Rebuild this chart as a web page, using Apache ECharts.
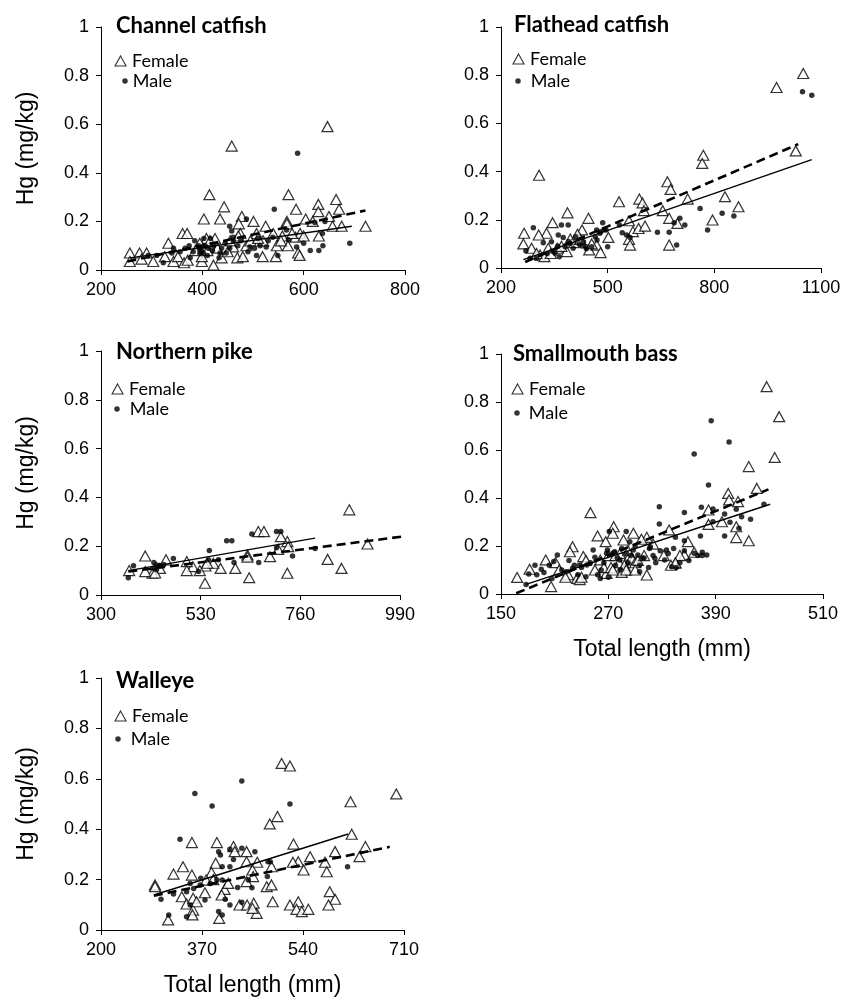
<!DOCTYPE html>
<html>
<head>
<meta charset="utf-8">
<script src="https://cdn.jsdelivr.net/npm/echarts@6/dist/echarts.min.js"></script>
<style>
html,body{margin:0;padding:0;background:#fff;}
#chart{width:844px;height:1003px;}
</style>
</head>
<body>
<div id="chart"></div>
<script>
// ---------- Data ----------
const panelTitles = ['Channel catfish', 'Flathead catfish', 'Northern pike', 'Smallmouth bass', 'Walleye'];
const seriesNames = ['Female', 'Male'];
const yTicks = [0, 0.2, 0.4, 0.6, 0.8, 1];
const ccTicks = [200, 400, 600, 800];
const fcTicks = [200, 500, 800, 1100];
const npTicks = [300, 530, 760, 990];
const sbTicks = [150, 270, 390, 510];
const wTicks = [200, 370, 540, 710];
const yAxisTitle = 'Hg (mg/kg)';
const xAxisTitle = 'Total length (mm)';

const ccFemale = [[647,0.59],[458,0.51],[414,0.31],[570,0.31],[443,0.26],[435,0.21],[403,0.21],[478,0.22],[501,0.20],[664,0.29],[629,0.27],[585,0.25],[670,0.25],[629,0.24],[650,0.22],[604,0.21],[567,0.20],[567,0.19],[618,0.20],[657,0.18],[675,0.18],[722,0.18],[525,0.18],[472,0.19],[475,0.15],[361,0.15],[370,0.15],[408,0.13],[425,0.13],[471,0.14],[507,0.15],[558,0.14],[584,0.135],[630,0.14],[593,0.15],[577,0.15],[333,0.11],[395,0.11],[487,0.10],[547,0.10],[569,0.10],[589,0.07],[592,0.06],[519,0.055],[545,0.055],[469,0.05],[480,0.055],[438,0.05],[422,0.02],[399,0.035],[399,0.055],[257,0.07],[257,0.035],[276,0.07],[290,0.07],[280,0.045],[303,0.035],[326,0.055],[343,0.035],[352,0.055],[364,0.03],[371,0.04],[461,0.095],[520,0.12],[415,0.12],[430,0.09],[455,0.12],[495,0.12],[510,0.13],[540,0.15],[555,0.12],[600,0.14],[450,0.075],[386,0.08],[410,0.08]];
const ccMale = [[588,0.48],[542,0.25],[691,0.11],[613,0.08],[630,0.08],[638,0.10],[637,0.15],[642,0.20],[622,0.195],[600,0.11],[586,0.095],[570,0.125],[549,0.06],[507,0.06],[526,0.095],[487,0.21],[458,0.16],[461,0.135],[447,0.07],[454,0.09],[435,0.07],[433,0.05],[416,0.13],[403,0.13],[392,0.10],[382,0.075],[374,0.10],[376,0.05],[356,0.075],[340,0.07],[323,0.03],[293,0.06],[412,0.09],[422,0.10],[476,0.12],[494,0.095],[490,0.075],[503,0.09],[510,0.13],[539,0.135],[514,0.10],[438,0.09],[402,0.07],[395,0.09],[385,0.12],[454,0.18],[461,0.12],[395,0.07],[343,0.09],[366,0.09],[566,0.165],[405,0.10],[398,0.08],[410,0.06],[420,0.08],[445,0.11],[470,0.10],[530,0.12],[310,0.06]];
const ccFemaleFit = [[252,0.035],[722,0.245]];
const ccMaleFit = [[257,0.05],[695,0.18]];

const fcFemale = [[1050,0.807],[975,0.749],[1029,0.486],[307,0.385],[769,0.468],[766,0.434],[668,0.358],[677,0.326],[725,0.286],[830,0.296],[868,0.254],[795,0.199],[589,0.286],[598,0.27],[602,0.238],[655,0.238],[532,0.275],[446,0.206],[387,0.229],[345,0.188],[328,0.144],[306,0.137],[265,0.144],[263,0.10],[286,0.082],[310,0.054],[322,0.047],[333,0.082],[358,0.082],[385,0.068],[405,0.105],[428,0.158],[423,0.119],[448,0.075],[469,0.095],[480,0.064],[502,0.127],[560,0.196],[571,0.151],[560,0.119],[563,0.095],[587,0.164],[605,0.174],[673,0.206],[696,0.185],[673,0.095],[300,0.06],[340,0.06],[370,0.09],[395,0.12],[415,0.14],[455,0.10]];
const fcMale = [[1048,0.731],[1074,0.717],[760,0.247],[822,0.227],[855,0.216],[781,0.158],[703,0.206],[687,0.188],[717,0.178],[694,0.095],[673,0.148],[640,0.148],[533,0.178],[541,0.146],[553,0.137],[563,0.127],[500,0.088],[495,0.158],[478,0.144],[470,0.116],[455,0.088],[439,0.088],[428,0.091],[389,0.178],[370,0.178],[375,0.127],[361,0.137],[342,0.109],[319,0.105],[291,0.167],[270,0.072],[282,0.04],[300,0.04],[364,0.047],[352,0.061],[380,0.088],[394,0.102],[403,0.082],[432,0.109],[486,0.188],[469,0.158],[330,0.06],[345,0.07],[360,0.09],[390,0.11],[410,0.13],[420,0.10],[440,0.08],[465,0.13],[480,0.15],[490,0.16]];
const fcFemaleFit = [[268,0.025],[1036,0.514]];
const fcMaleFit = [[263,0.035],[1074,0.45]];

const npFemale = [[873,0.349],[994,0.209],[915,0.209],[823,0.146],[855,0.109],[730,0.089],[730,0.219],[732,0.198],[715,0.239],[709,0.187],[690,0.157],[663,0.26],[676,0.26],[638,0.164],[638,0.155],[642,0.071],[610,0.109],[576,0.109],[559,0.13],[540,0.048],[541,0.119],[528,0.10],[512,0.116],[498,0.137],[498,0.10],[450,0.144],[436,0.109],[419,0.089],[402,0.16],[402,0.096],[365,0.10],[425,0.09],[545,0.13]];
const npMale = [[794,0.191],[742,0.16],[705,0.26],[715,0.26],[705,0.194],[664,0.133],[648,0.25],[607,0.133],[590,0.222],[602,0.222],[550,0.182],[548,0.144],[525,0.096],[467,0.15],[422,0.133],[428,0.103],[375,0.12],[363,0.071],[428,0.123],[571,0.144],[420,0.11],[435,0.12],[445,0.125]];
const npFemaleFit = [[363,0.096],[994,0.239]];
const npMaleFit = [[363,0.1],[794,0.233]];

const sbFemale = [[447,0.864],[461,0.739],[456,0.569],[427,0.531],[436,0.44],[404,0.419],[405,0.392],[415,0.385],[382,0.35],[397,0.301],[413,0.28],[413,0.235],[427,0.222],[366,0.174],[355,0.163],[359,0.218],[338,0.267],[320,0.208],[313,0.236],[307,0.228],[313,0.079],[298,0.253],[287,0.225],[276,0.28],[275,0.253],[267,0.218],[258,0.242],[250,0.339],[242,0.156],[230,0.197],[227,0.176],[211,0.131],[200,0.142],[182,0.103],[168,0.069],[206,0.031],[235,0.065],[289,0.107],[268,0.086],[261,0.142],[283,0.169],[294,0.162],[345,0.128],[298,0.142],[289,0.1],[265,0.11],[270,0.16],[278,0.16],[282,0.13],[288,0.12],[292,0.18],[296,0.15],[300,0.13],[303,0.14],[310,0.16],[285,0.09],[273,0.11],[255,0.1],[245,0.14],[225,0.08],[215,0.1],[222,0.07],[238,0.06],[240,0.07],[275,0.1],[290,0.1],[300,0.1],[332,0.16],[340,0.12],[350,0.16],[345,0.13],[382,0.29]];
const sbMale = [[385,0.722],[405,0.633],[366,0.583],[382,0.454],[327,0.364],[355,0.34],[374,0.361],[387,0.354],[387,0.301],[400,0.333],[406,0.299],[413,0.353],[419,0.322],[429,0.311],[444,0.374],[400,0.242],[416,0.274],[373,0.242],[380,0.163],[375,0.174],[355,0.222],[345,0.236],[327,0.292],[337,0.169],[341,0.114],[335,0.183],[317,0.197],[294,0.218],[290,0.26],[271,0.26],[269,0.183],[255,0.153],[246,0.121],[238,0.121],[230,0.107],[223,0.093],[213,0.163],[209,0.135],[195,0.103],[178,0.04],[181,0.083],[207,0.065],[261,0.065],[245,0.072],[283,0.142],[303,0.163],[322,0.149],[333,0.142],[298,0.183],[277,0.176],[305,0.093],[253,0.183],[250,0.13],[262,0.1],[275,0.17],[280,0.15],[285,0.19],[290,0.17],[295,0.16],[305,0.12],[310,0.15],[315,0.11],[320,0.16],[328,0.18],[350,0.13],[355,0.18],[360,0.14],[300,0.2],[270,0.07],[265,0.13],[240,0.11],[232,0.12],[218,0.1],[204,0.12],[198,0.09],[190,0.08],[188,0.12],[226,0.14],[236,0.08],[258,0.08],[268,0.17],[278,0.12],[283,0.1],[292,0.13],[308,0.15],[316,0.19],[323,0.13],[343,0.19],[346,0.11],[366,0.17],[370,0.16],[375,0.16]];
const sbFemaleFit = [[167,0.003],[449,0.436]];
const sbMaleFit = [[178,0.04],[451,0.374]];

const wFemale = [[504,0.661],[518,0.651],[697,0.54],[620,0.509],[622,0.38],[497,0.45],[484,0.421],[524,0.341],[645,0.331],[635,0.291],[594,0.311],[552,0.291],[577,0.269],[532,0.271],[523,0.269],[541,0.238],[580,0.231],[487,0.251],[479,0.172],[487,0.179],[489,0.112],[518,0.099],[532,0.112],[529,0.082],[538,0.073],[549,0.082],[585,0.152],[594,0.122],[583,0.099],[291,0.179],[291,0.172],[322,0.222],[338,0.251],[353,0.347],[353,0.218],[336,0.132],[344,0.103],[355,0.126],[355,0.079],[354,0.06],[313,0.04],[361,0.112],[375,0.148],[395,0.347],[393,0.265],[386,0.228],[377,0.198],[389,0.2],[408,0.161],[403,0.139],[414,0.185],[423,0.331],[425,0.311],[399,0.046],[445,0.311],[445,0.271],[463,0.269],[455,0.238],[456,0.212],[445,0.192],[433,0.099],[446,0.099],[457,0.106],[462,0.066],[455,0.086]];
const wMale = [[437,0.591],[358,0.542],[387,0.492],[518,0.5],[333,0.36],[615,0.251],[485,0.271],[480,0.212],[437,0.324],[459,0.311],[417,0.32],[398,0.311],[401,0.298],[404,0.251],[417,0.251],[423,0.28],[395,0.198],[404,0.198],[384,0.185],[367,0.179],[368,0.205],[356,0.165],[350,0.185],[344,0.152],[322,0.143],[301,0.122],[314,0.06],[344,0.053],[350,0.099],[375,0.119],[398,0.073],[404,0.06],[417,0.099],[409,0.122],[430,0.169],[437,0.11],[454,0.168],[448,0.198],[481,0.271]];
const wFemaleFit = [[289,0.136],[686,0.33]];
const wMaleFit = [[289,0.139],[616,0.381]];

// ---------- Layout ----------
const panels = [
  {title: panelTitles[0], female: ccFemale, male: ccMale, ff: ccFemaleFit, mf: ccMaleFit, ticks: ccTicks,
   grid: {left:101, top:27, width:304, height:243}, titlePos:[116,13], fLeg:[120,61], mLeg:[125,81], mPad:0, yName:true, xName:false},
  {title: panelTitles[1], female: fcFemale, male: fcMale, ff: fcFemaleFit, mf: fcMaleFit, ticks: fcTicks,
   grid: {left:501, top:27, width:320, height:241}, titlePos:[514,12], fLeg:[518,59], mLeg:[518,81], mPad:5, yName:false, xName:false},
  {title: panelTitles[2], female: npFemale, male: npMale, ff: npFemaleFit, mf: npMaleFit, ticks: npTicks,
   grid: {left:101, top:351, width:299, height:244}, titlePos:[116,339], fLeg:[117,389], mLeg:[117,409], mPad:5, yName:true, xName:false},
  {title: panelTitles[3], female: sbFemale, male: sbMale, ff: sbFemaleFit, mf: sbMaleFit, ticks: sbTicks,
   grid: {left:501, top:354, width:322, height:240}, titlePos:[513,341], fLeg:[517,389], mLeg:[517,413], mPad:4, yName:false, xName:true},
  {title: panelTitles[4], female: wFemale, male: wMale, ff: wFemaleFit, mf: wMaleFit, ticks: wTicks,
   grid: {left:101, top:678, width:303, height:252}, titlePos:[116,668], fLeg:[120,716], mLeg:[118,739], mPad:5, yName:true, xName:true}
];

const AX = '#000';
const SANS = 'Liberation Sans, Arial, sans-serif';
const labelFont = {fontFamily:SANS, fontSize:18, color:'#000'};
const nameFont = {fontFamily:SANS, fontSize:23, color:'#000'};
const legFont = {fontFamily:'Lato, sans-serif', fontSize:18, color:'#000', lineHeight:20};

const option = {
  animation:false,
  backgroundColor:'#fff',
  grid:[], xAxis:[], yAxis:[], title:[], legend:[], series:[]
};

panels.forEach((p, i) => {
  option.grid.push(Object.assign({outerBoundsMode:'none', containLabel:false}, p.grid));
  option.xAxis.push({
    gridIndex:i, type:'value', min:p.ticks[0], max:p.ticks[p.ticks.length-1],
    axisLine:{show:true, onZero:false, lineStyle:{color:AX, width:1}},
    axisTick:{show:true, length:5, inside:false, customValues:p.ticks, lineStyle:{color:AX}},
    axisLabel:Object.assign({customValues:p.ticks, margin:11, formatter:(v) => String(v)}, labelFont),
    splitLine:{show:false},
    name: p.xName ? xAxisTitle : '', nameLocation:'middle', nameGap:44, nameTextStyle:nameFont
  });
  option.yAxis.push({
    gridIndex:i, type:'value', min:yTicks[0], max:yTicks[yTicks.length-1], interval:0.2,
    axisLine:{show:true, lineStyle:{color:AX, width:1}},
    axisTick:{show:true, length:5, inside:false, lineStyle:{color:AX}},
    axisLabel:Object.assign({margin:12, formatter:(v) => String(v)}, labelFont),
    splitLine:{show:false},
    name: p.yName ? yAxisTitle : '', nameLocation:'middle', nameGap:63, nameTextStyle:nameFont
  });
  option.title.push({
    text:p.title, left:p.titlePos[0], top:p.titlePos[1], padding:0,
    textStyle:{fontFamily:'Lato, sans-serif', fontWeight:'bold', fontSize:22, color:'#000', lineHeight:26}
  });
  option.legend.push({
    data:[seriesNames[0]], left:p.fLeg[0]-5.5, top:p.fLeg[1]-10, padding:0, selectedMode:false,
    icon:'triangle', itemWidth:11, itemHeight:10,
    itemStyle:{color:'#fff', borderColor:'#000', borderWidth:1.1},
    textStyle:Object.assign({padding:[0,0,0,1]}, legFont)
  });
  option.legend.push({
    data:[seriesNames[1]], left:p.mLeg[0]-2.75, top:p.mLeg[1]-10, padding:0, selectedMode:false,
    icon:'circle', itemWidth:5.5, itemHeight:5.5,
    itemStyle:{color:'#000', borderWidth:0},
    textStyle:Object.assign({padding:[0,0,0,p.mPad]}, legFont)
  });
  option.series.push({
    name:seriesNames[0], type:'scatter', xAxisIndex:i, yAxisIndex:i, data:p.female,
    symbol:'triangle', symbolSize:[11,10],
    itemStyle:{color:'#fff', borderColor:'#000', borderWidth:1.2}, z:2
  });
  option.series.push({
    name:seriesNames[1], type:'scatter', xAxisIndex:i, yAxisIndex:i, data:p.male,
    symbol:'circle', symbolSize:5.5,
    itemStyle:{color:'#000'}, z:3
  });
  option.series.push({
    name:'Female fit', type:'line', xAxisIndex:i, yAxisIndex:i, data:p.ff,
    showSymbol:false, symbol:'none', silent:true,
    lineStyle:{color:'#000', width:2.6, type:[9,5]}, z:4
  });
  option.series.push({
    name:'Male fit', type:'line', xAxisIndex:i, yAxisIndex:i, data:p.mf,
    showSymbol:false, symbol:'none', silent:true,
    lineStyle:{color:'#000', width:1.4, type:'solid'}, z:4
  });
});

const chart = echarts.init(document.getElementById('chart'), null, {renderer:'canvas'});
chart.setOption(option);
</script>
</body>
</html>
